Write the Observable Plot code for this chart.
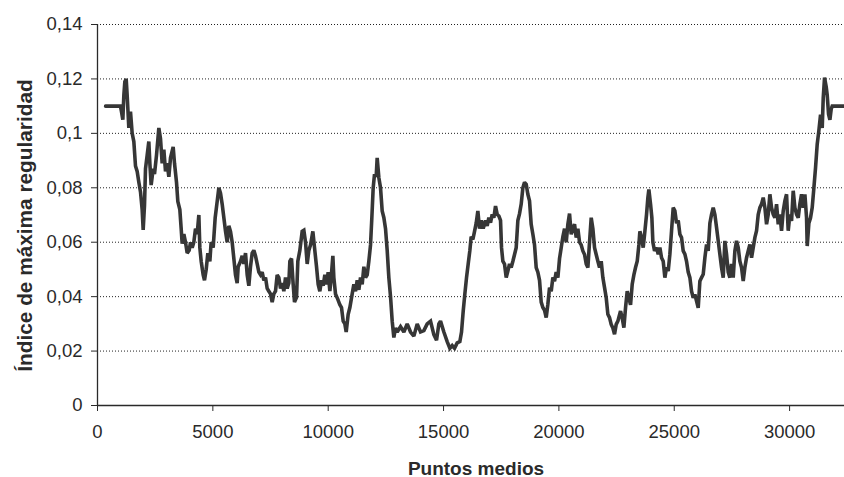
<!DOCTYPE html>
<html>
<head>
<meta charset="utf-8">
<script src="https://cdn.jsdelivr.net/npm/d3@7"></script>
<script src="https://cdn.jsdelivr.net/npm/@observablehq/plot@0.6"></script>
<style>
  html, body { margin: 0; padding: 0; background: #fff; }
</style>
</head>
<body>
<div id="chart"></div>
<script>
// Puntos medios (x) and Índice de máxima regularidad (y)
const puntos = [350, 997, 1040, 1098, 1142, 1185, 1243, 1286, 1358, 1430, 1503, 1575, 1647, 1720, 1792, 1864, 1936, 1980, 2037, 2081, 2153, 2225, 2269, 2326, 2413, 2471, 2558, 2659, 2731, 2803, 2876, 2948, 3020, 3092, 3165, 3280, 3338, 3425, 3482, 3569, 3627, 3670, 3743, 3815, 3887, 3974, 4032, 4104, 4176, 4248, 4320, 4393, 4436, 4494, 4581, 4638, 4711, 4783, 4870, 4927, 5014, 5101, 5188, 5260, 5332, 5404, 5477, 5549, 5621, 5693, 5765, 5838, 5910, 5982, 6054, 6098, 6199, 6271, 6343, 6416, 6488, 6560, 6632, 6705, 6777, 6849, 6922, 6994, 7066, 7138, 7210, 7283, 7355, 7427, 7499, 7572, 7644, 7716, 7788, 7861, 7933, 8005, 8077, 8150, 8222, 8294, 8338, 8410, 8482, 8540, 8627, 8684, 8771, 8872, 8945, 9017, 9089, 9161, 9234, 9335, 9407, 9494, 9566, 9638, 9710, 9783, 9855, 9927, 9999, 10072, 10129, 10202, 10245, 10317, 10418, 10505, 10577, 10650, 10722, 10780, 10866, 10939, 11040, 11112, 11184, 11257, 11329, 11401, 11473, 11546, 11618, 11690, 11762, 11835, 11892, 11950, 12008, 12080, 12123, 12196, 12268, 12340, 12413, 12485, 12557, 12629, 12702, 12774, 12846, 12918, 12991, 13135, 13280, 13424, 13569, 13713, 13858, 14002, 14147, 14291, 14436, 14580, 14696, 14797, 14869, 15014, 15158, 15274, 15375, 15476, 15591, 15707, 15779, 15852, 15924, 15996, 16068, 16141, 16198, 16271, 16343, 16415, 16487, 16560, 16632, 16719, 16820, 16892, 16964, 17037, 17109, 17181, 17253, 17326, 17398, 17470, 17513, 17571, 17643, 17716, 17788, 17860, 17932, 18005, 18077, 18149, 18221, 18294, 18366, 18438, 18510, 18583, 18655, 18727, 18799, 18872, 18944, 19016, 19088, 19161, 19233, 19305, 19378, 19450, 19522, 19594, 19667, 19739, 19811, 19883, 19956, 20028, 20100, 20172, 20245, 20317, 20389, 20461, 20534, 20606, 20678, 20750, 20823, 20895, 20967, 21039, 21112, 21184, 21256, 21328, 21401, 21473, 21545, 21617, 21690, 21762, 21834, 21906, 21979, 22051, 22123, 22195, 22267, 22340, 22412, 22484, 22556, 22672, 22744, 22817, 22889, 22961, 23033, 23106, 23178, 23250, 23322, 23395, 23467, 23510, 23582, 23655, 23727, 23799, 23857, 23900, 23973, 24030, 24074, 24146, 24233, 24305, 24377, 24449, 24522, 24594, 24666, 24738, 24811, 24883, 24955, 25027, 25100, 25172, 25244, 25316, 25389, 25461, 25533, 25605, 25678, 25750, 25822, 25894, 25967, 26039, 26111, 26183, 26256, 26328, 26400, 26472, 26545, 26617, 26689, 26761, 26834, 26906, 26978, 27050, 27123, 27195, 27267, 27339, 27412, 27484, 27556, 27628, 27701, 27773, 27845, 27917, 27990, 28062, 28134, 28206, 28279, 28351, 28423, 28495, 28568, 28640, 28712, 28784, 28857, 28929, 29001, 29073, 29146, 29218, 29290, 29362, 29435, 29507, 29579, 29651, 29724, 29796, 29868, 29940, 30013, 30085, 30157, 30229, 30302, 30374, 30446, 30518, 30591, 30663, 30735, 30764, 30836, 30908, 30980, 31053, 31125, 31197, 31269, 31342, 31414, 31458, 31515, 31588, 31631, 31689, 31747, 31805, 31848, 32380];
const indice = [0.110, 0.110, 0.108, 0.105, 0.114, 0.119, 0.120, 0.114, 0.102, 0.108, 0.100, 0.097, 0.088, 0.086, 0.082, 0.0785, 0.072, 0.0645, 0.0735, 0.087, 0.092, 0.097, 0.089, 0.081, 0.087, 0.085, 0.092, 0.102, 0.098, 0.089, 0.094, 0.086, 0.089, 0.084, 0.091, 0.095, 0.089, 0.082, 0.075, 0.072, 0.065, 0.0595, 0.063, 0.060, 0.056, 0.057, 0.060, 0.058, 0.060, 0.065, 0.063, 0.070, 0.058, 0.053, 0.048, 0.046, 0.050, 0.056, 0.053, 0.060, 0.058, 0.069, 0.075, 0.080, 0.078, 0.074, 0.069, 0.064, 0.060, 0.066, 0.064, 0.060, 0.054, 0.048, 0.045, 0.051, 0.053, 0.055, 0.052, 0.056, 0.048, 0.044, 0.051, 0.056, 0.057, 0.055, 0.052, 0.049, 0.048, 0.049, 0.046, 0.047, 0.043, 0.042, 0.041, 0.038, 0.041, 0.042, 0.048, 0.047, 0.043, 0.045, 0.042, 0.047, 0.043, 0.045, 0.053, 0.054, 0.0445, 0.038, 0.0397, 0.053, 0.057, 0.064, 0.0644, 0.060, 0.052, 0.057, 0.059, 0.064, 0.058, 0.051, 0.0445, 0.042, 0.046, 0.044, 0.048, 0.0445, 0.049, 0.042, 0.047, 0.055, 0.047, 0.041, 0.039, 0.037, 0.036, 0.031, 0.030, 0.027, 0.0335, 0.036, 0.041, 0.0445, 0.042, 0.046, 0.0425, 0.047, 0.0445, 0.051, 0.047, 0.048, 0.053, 0.059, 0.069, 0.080, 0.085, 0.084, 0.091, 0.0837, 0.080, 0.0715, 0.069, 0.065, 0.057, 0.047, 0.040, 0.031, 0.025, 0.0285, 0.027, 0.029, 0.027, 0.030, 0.027, 0.0255, 0.030, 0.027, 0.0275, 0.030, 0.031, 0.026, 0.024, 0.030, 0.031, 0.027, 0.0235, 0.021, 0.022, 0.021, 0.023, 0.0235, 0.027, 0.0347, 0.041, 0.047, 0.052, 0.057, 0.062, 0.061, 0.064, 0.067, 0.0715, 0.065, 0.068, 0.065, 0.068, 0.066, 0.069, 0.0672, 0.0702, 0.069, 0.0733, 0.0702, 0.0696, 0.068, 0.058, 0.053, 0.052, 0.047, 0.0494, 0.052, 0.0507, 0.053, 0.0555, 0.058, 0.068, 0.0705, 0.074, 0.080, 0.082, 0.0813, 0.0776, 0.0752, 0.0666, 0.0629, 0.059, 0.0507, 0.049, 0.046, 0.038, 0.036, 0.035, 0.0323, 0.0372, 0.0433, 0.042, 0.047, 0.0457, 0.049, 0.047, 0.054, 0.058, 0.062, 0.065, 0.060, 0.0666, 0.0705, 0.0629, 0.065, 0.0666, 0.0617, 0.065, 0.060, 0.059, 0.0568, 0.0555, 0.052, 0.0507, 0.060, 0.069, 0.065, 0.058, 0.0555, 0.053, 0.0507, 0.053, 0.047, 0.0433, 0.0396, 0.0335, 0.0323, 0.0298, 0.0285, 0.0262, 0.0298, 0.031, 0.0347, 0.0322, 0.0286, 0.036, 0.042, 0.0396, 0.037, 0.0446, 0.048, 0.0507, 0.053, 0.059, 0.064, 0.0617, 0.058, 0.064, 0.0702, 0.0764, 0.0794, 0.074, 0.069, 0.060, 0.0568, 0.058, 0.0556, 0.058, 0.0543, 0.053, 0.047, 0.0507, 0.0494, 0.0556, 0.0642, 0.0727, 0.0715, 0.067, 0.068, 0.0629, 0.0617, 0.0568, 0.0556, 0.053, 0.049, 0.047, 0.042, 0.0396, 0.0408, 0.0384, 0.0359, 0.0457, 0.047, 0.0482, 0.0543, 0.0592, 0.0568, 0.067, 0.0702, 0.0727, 0.0702, 0.0654, 0.0605, 0.0556, 0.0507, 0.047, 0.0605, 0.0556, 0.049, 0.047, 0.052, 0.047, 0.0568, 0.0605, 0.058, 0.053, 0.0507, 0.0457, 0.0507, 0.0543, 0.0568, 0.0592, 0.0543, 0.058, 0.0617, 0.0642, 0.0702, 0.0727, 0.074, 0.0764, 0.0727, 0.0666, 0.0702, 0.0776, 0.0727, 0.0702, 0.069, 0.074, 0.0666, 0.0702, 0.0642, 0.0715, 0.0752, 0.0776, 0.0642, 0.0702, 0.0678, 0.0789, 0.0727, 0.0702, 0.069, 0.074, 0.0776, 0.0727, 0.0776, 0.069, 0.0586, 0.067, 0.069, 0.0727, 0.080, 0.0874, 0.096, 0.101, 0.1069, 0.102, 0.113, 0.1205, 0.117, 0.114, 0.107, 0.105, 0.109, 0.110, 0.110];

const xTicks = [0, 5000, 10000, 15000, 20000, 25000, 30000];
const xTickLabels = ["0", "5000", "10000", "15000", "20000", "25000", "30000"];
const yTicks = [0, 0.02, 0.04, 0.06, 0.08, 0.1, 0.12, 0.14];
const yTickLabels = ["0", "0,02", "0,04", "0,06", "0,08", "0,1", "0,12", "0,14"];
const xTitle = "Puntos medios";
const yTitle = "Índice de máxima regularidad";

const data = puntos.map((x, i) => ({x, y: indice[i]}));
const gridTicks = yTicks.filter(d => d > 0);

const chart = Plot.plot({
  width: 844,
  height: 477,
  marginLeft: 97,
  marginRight: 0,
  marginTop: 24,
  marginBottom: 72,
  style: {fontFamily: "'Liberation Sans', Arial, sans-serif", fontSize: "18.5px", color: "#2a2a2a", background: "#fff", overflow: "visible"},
  x: {domain: [0, 32380]},
  y: {domain: [0, 0.14]},
  marks: [
    Plot.gridY(gridTicks, {stroke: "#222", strokeOpacity: 1, strokeDasharray: "1,2", strokeWidth: 1}),
    Plot.axisY(yTicks, {tickSize: 6, tickPadding: 9, tickFormat: d => yTickLabels[yTicks.indexOf(d)], label: null, fontSize: 18.5, stroke: "#2a2a2a"}),
    Plot.axisX(xTicks, {tickSize: 6, tickPadding: 13, tickFormat: d => xTickLabels[xTicks.indexOf(d)], label: null, fontSize: 18.5, stroke: "#2a2a2a"}),
    Plot.ruleX([0], {stroke: "#2a2a2a", strokeWidth: 1.3}),
    Plot.ruleY([0], {stroke: "#2a2a2a", strokeWidth: 1.3}),
    Plot.line(data, {x: "x", y: "y", stroke: "#363636", strokeWidth: 3.6, strokeLinejoin: "miter", strokeMiterlimit: 2}),
    Plot.text([xTitle], {text: d => d, frameAnchor: "bottom", dy: 69, dx: 5, lineAnchor: "bottom", textAnchor: "middle", fontWeight: "bold", fontSize: 19, fill: "#2a2a2a"}),
    Plot.text([yTitle], {text: d => d, frameAnchor: "left", rotate: -90, dx: -65.5, dy: 10.5, lineAnchor: "bottom", textAnchor: "middle", fontWeight: "bold", fontSize: 20.8, fill: "#2a2a2a"})
  ]
});
document.getElementById("chart").appendChild(chart);
</script>
</body>
</html>
